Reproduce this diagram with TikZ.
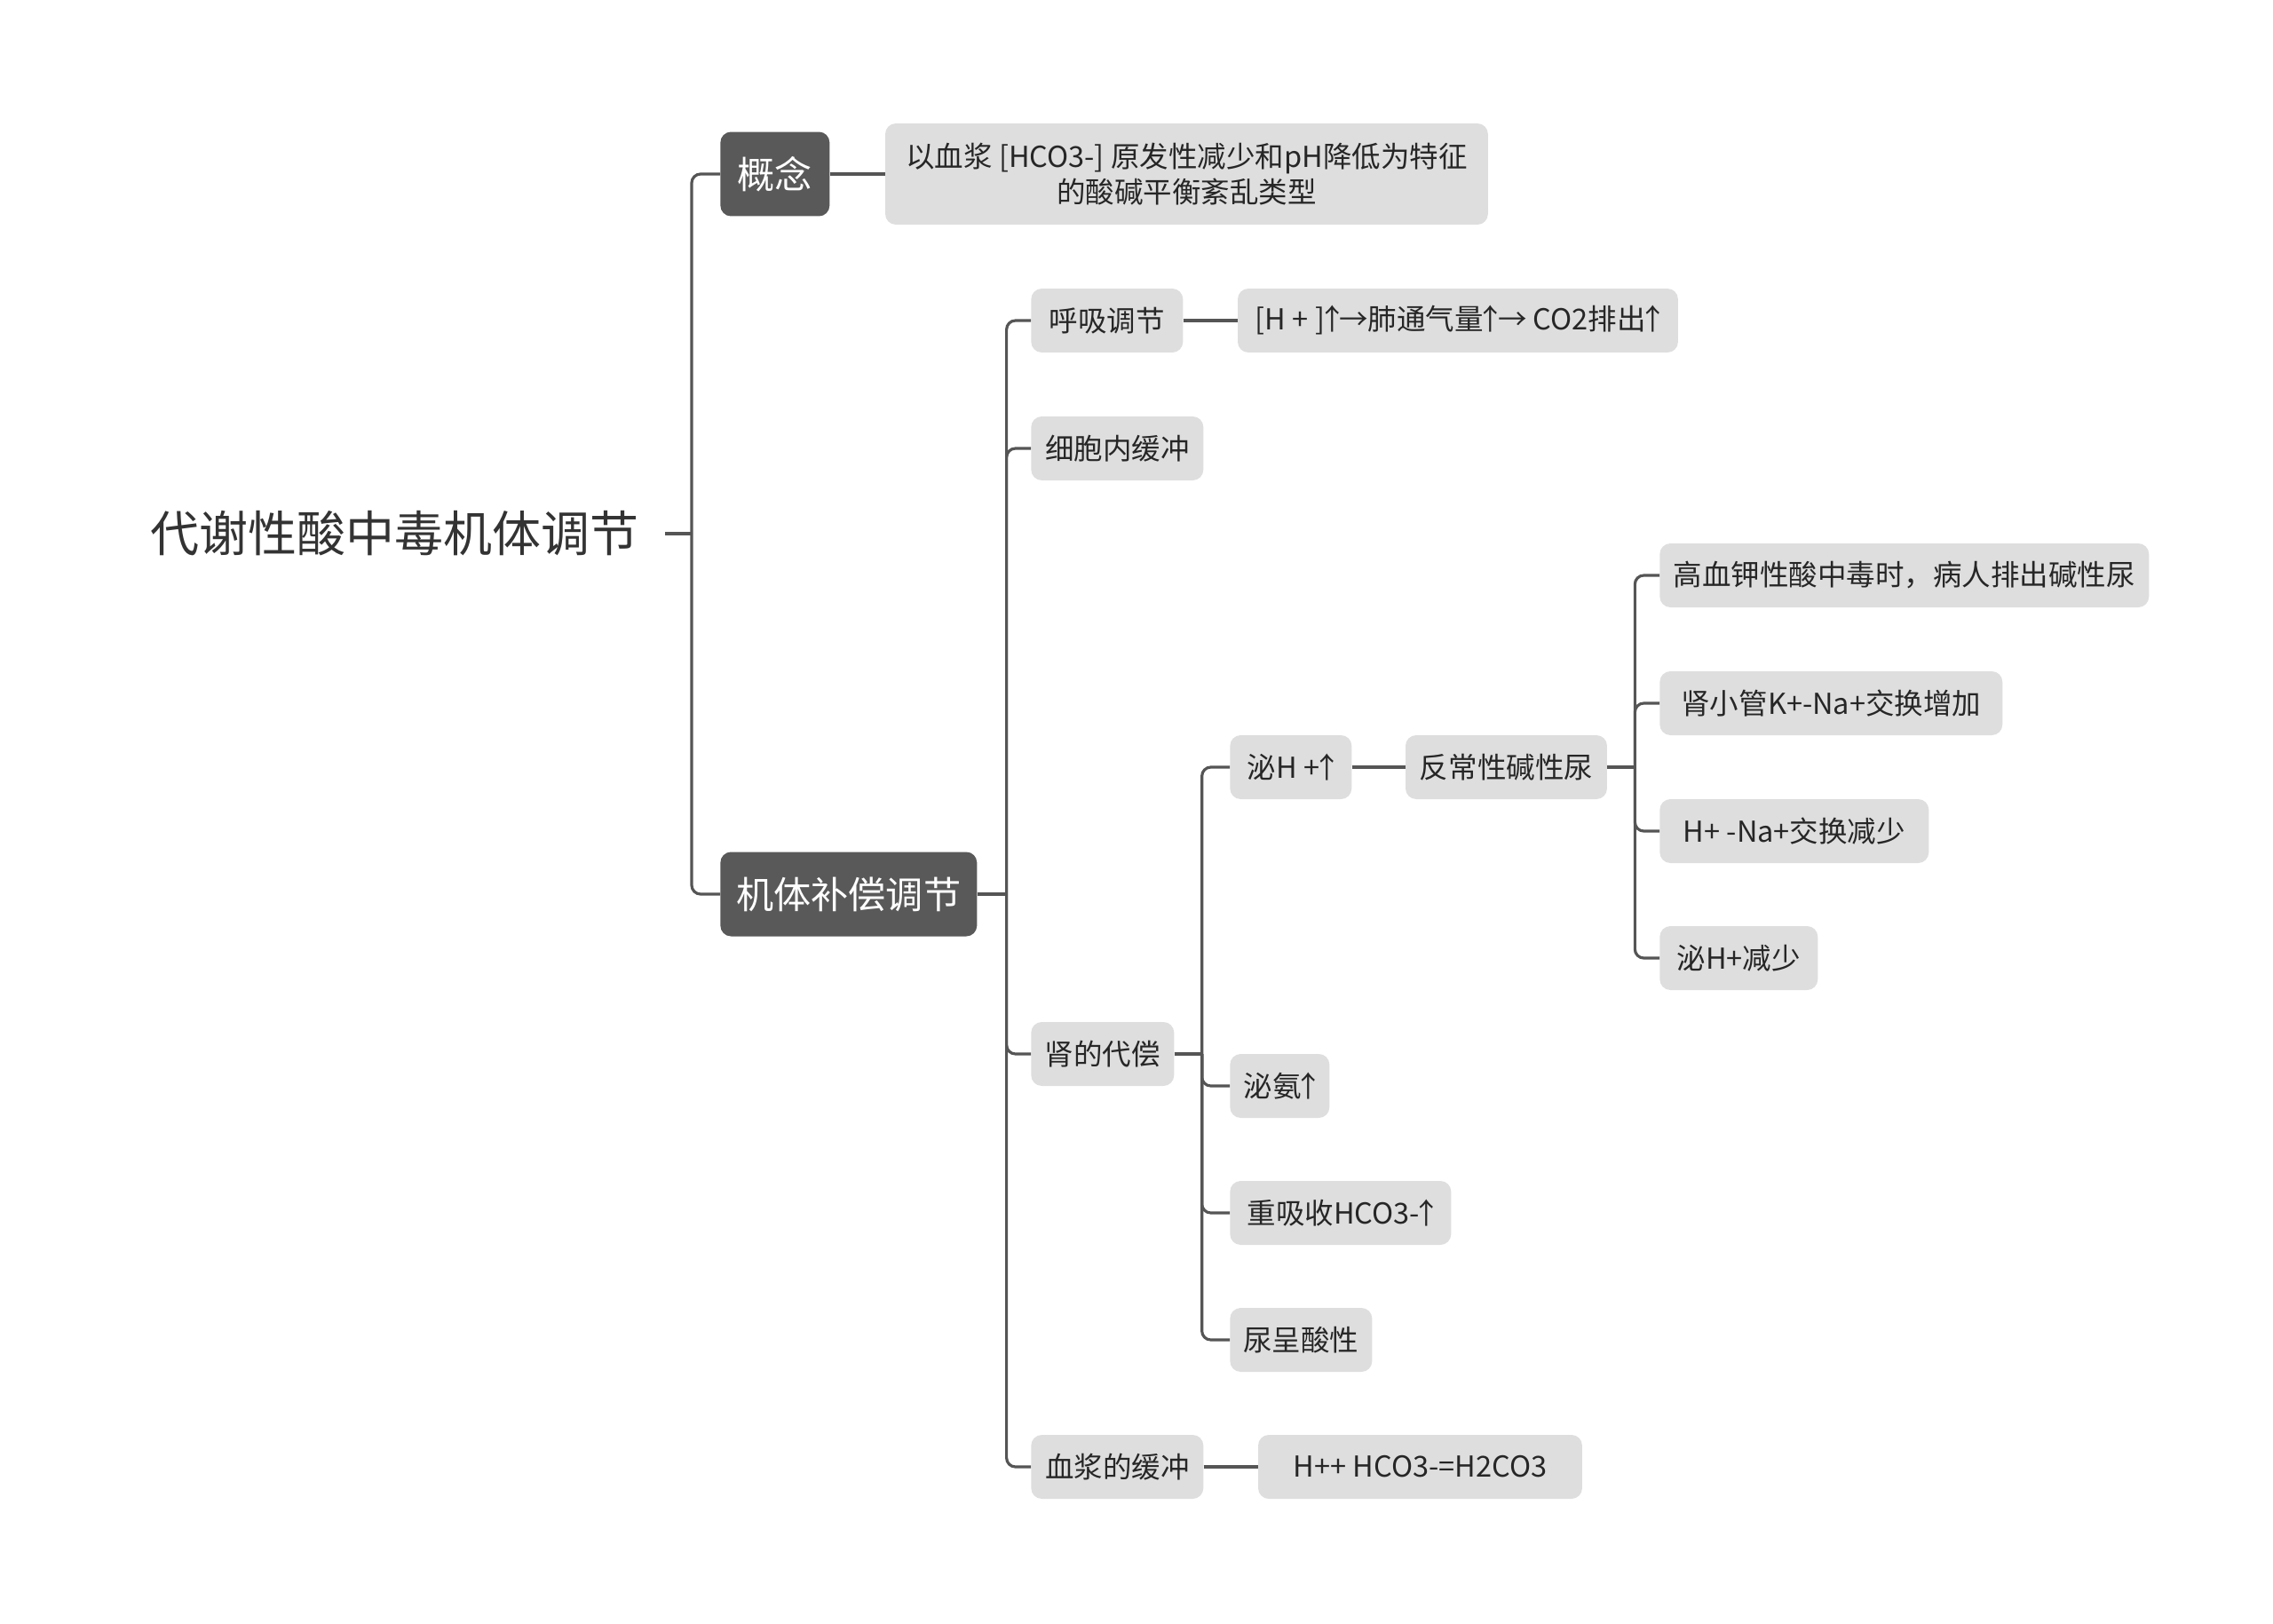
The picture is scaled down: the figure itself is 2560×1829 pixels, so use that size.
\documentclass[tikz,border=0pt]{standalone}
\usepackage{fontspec}
\setmainfont{Noto Sans CJK SC}
\newcommand\uparr{\makebox[0.5em][c]{↑}}
\usetikzlibrary{positioning}
\definecolor{darkbox}{HTML}{595959}
\definecolor{lightbox}{HTML}{DEDEDE}
\definecolor{linkgray}{HTML}{555555}
\definecolor{inkgray}{HTML}{262626}

\begin{document}
\begin{tikzpicture}[x=0.02cm,y=-0.02cm, every node/.style={font=\fontsize{18.5}{23}\selectfont,text=inkgray}]
\tikzstyle{leaf}=[fill=lightbox,rounded corners=0.24cm,anchor=west,minimum height=1.44cm,inner xsep=0.3cm,align=center]
\tikzstyle{dark}=[fill=darkbox,rounded corners=0.24cm,anchor=west,minimum height=1.9cm,text=white,font=\fontsize{24}{28}\selectfont]
\tikzstyle{link}=[draw=linkgray,line width=1.8pt,rounded corners=0.2cm]
\useasboundingbox (0,0) rectangle (2560,1829);
% root and first level
\node[anchor=east,inner xsep=0.58cm,text=black!80,font=\fontsize{31.3}{36}\selectfont] (root) at (749,601) {代谢性酸中毒机体调节};
\node[dark,minimum width=2.46cm] (concept) at (811,196) {概念};
\node[dark,minimum width=5.78cm] (comp) at (811,1007) {机体补偿调节};
\node[leaf,minimum width=13.58cm,minimum height=2.28cm,right=1.24cm of concept] (def) {以血浆 [HCO3-] 原发性减少和pH降低为特征\\的酸碱平衡紊乱类型};
% compensation branches
\node[leaf,minimum width=3.42cm] (resp) at (1161,361) {呼吸调节};
\node[leaf,minimum width=9.92cm,right=1.22cm of resp] (respnote) {[H + ]\uparr→肺通气量\uparr→ CO2排出\uparr};
\node[leaf,minimum width=3.88cm] (cell) at (1161,505) {细胞内缓冲};
\node[leaf,minimum width=3.22cm] (kidney) at (1161,1187) {肾的代偿};
\node[leaf,minimum width=3.88cm] (plasma) at (1161,1652) {血浆的缓冲};
\node[leaf,minimum width=7.3cm,right=1.22cm of plasma] (plasmanote) {H++ HCO3-=H2CO3};
% kidney branches
\node[leaf,minimum width=2.74cm] (hsec) at (1385,864) {泌H +\uparr};
\node[leaf,minimum width=4.54cm,right=1.2cm of hsec] (paradox) {反常性碱性尿};
\node[leaf,minimum width=2.24cm] (ammonia) at (1385,1223) {泌氨\uparr};
\node[leaf,minimum width=4.98cm] (reabs) at (1385,1366) {重吸收HCO3-\uparr};
\node[leaf,minimum width=3.2cm] (acidurine) at (1385,1509) {尿呈酸性};
% paradoxical alkaline urine
\node[leaf,minimum width=11.02cm] (hk) at (1869,648) {高血钾性酸中毒时，病人排出碱性尿};
\node[leaf,minimum width=7.72cm] (kna) at (1869,792) {肾小管K+-Na+交换增加};
\node[leaf,minimum width=6.06cm] (hna) at (1869,936) {H+ -Na+交换减少};
\node[leaf,minimum width=3.56cm] (hless) at (1869,1079) {泌H+减少};
% links
\draw[link] (root.east) -- ++(30,0);
\draw[link] (root.east) ++(30,0) |- (concept.west);
\draw[link] (root.east) ++(30,0) |- (comp.west);
\draw[link] (concept) -- (def);
\draw[link] (comp.east) -- ++(33,0);
\draw[link] (comp.east) ++(33,0) |- (resp.west);
\draw[link] (comp.east) ++(33,0) |- (cell.west);
\draw[link] (comp.east) ++(33,0) |- (kidney.west);
\draw[link] (comp.east) ++(33,0) |- (plasma.west);
\draw[link] (resp) -- (respnote);
\draw[link] (plasma) -- (plasmanote);
\draw[link] (kidney.east) -- ++(31,0);
\draw[link] (kidney.east) ++(31,0) |- (hsec.west);
\draw[link] (kidney.east) ++(31,0) |- (ammonia.west);
\draw[link] (kidney.east) ++(31,0) |- (reabs.west);
\draw[link] (kidney.east) ++(31,0) |- (acidurine.west);
\draw[link] (hsec) -- (paradox);
\draw[link] (paradox.east) -- ++(31,0);
\draw[link] (paradox.east) ++(31,0) |- (hk.west);
\draw[link] (paradox.east) ++(31,0) |- (kna.west);
\draw[link] (paradox.east) ++(31,0) |- (hna.west);
\draw[link] (paradox.east) ++(31,0) |- (hless.west);
\end{tikzpicture}
\end{document}
